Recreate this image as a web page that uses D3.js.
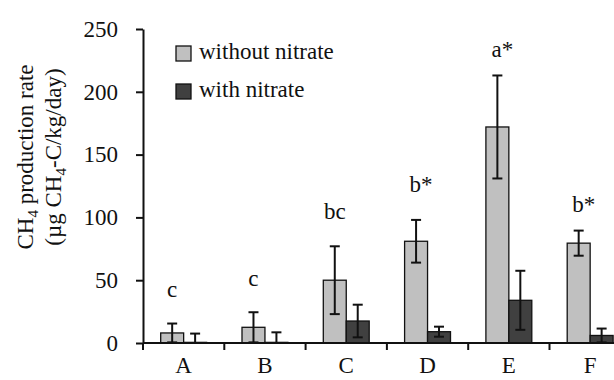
<!DOCTYPE html>
<html>
<head>
<meta charset="utf-8">
<script src="https://cdn.jsdelivr.net/npm/d3@7"></script>
<style>
body { margin: 0; background: #fff; }
text { font-family: "Liberation Serif", serif; }
</style>
</head>
<body>
<div id="chart"></div>
<script>
var w = 614;
var h = 380;

var categories = ["A", "B", "C", "D", "E", "F"];
var withoutNitrate = [8, 12.5, 50, 81, 172, 79.5];
var withNitrate = [0.5, 0.5, 17.5, 9, 34, 6];
var errWithout = [7.5, 12, 27, 17, 41, 10];
var errWith = [7, 8, 13, 4, 23.5, 5.5];
var letters = ["c", "c", "bc", "b*", "a*", "b*"];
var letterAt = [37, 45, 99, 120, 228, 104];
var yTicks = [0, 50, 100, 150, 200, 250];
var seriesNames = ["without nitrate", "with nitrate"];
var colors = ["#c0c0c0", "#404040"];

var svg = d3.select("#chart")
	.append("svg")
	.attr("width", w)
	.attr("height", h);

// scales
var yScale = d3.scaleLinear()
	.domain([0, 250])
	.range([343, 29]);

var xScale = d3.scaleBand()
	.domain(categories)
	.range([143, 143 + 6 * 81.3])
	.padding(0);

var subScale = d3.scaleBand()
	.domain([0, 1])
	.range([17.7, xScale.bandwidth() - 17.7])
	.padding(0);

var rows = categories.map(function (c, i) {
	return {
		cat: c,
		vals: [
			{ s: 0, v: withoutNitrate[i], e: errWithout[i] },
			{ s: 1, v: withNitrate[i], e: errWith[i] }
		]
	};
});

// bars
var groups = svg.selectAll("g.cat")
	.data(rows)
	.enter()
	.append("g")
	.attr("class", "cat")
	.attr("transform", function (d) {
		return "translate(" + xScale(d.cat) + ",0)";
	});

groups.selectAll("rect")
	.data(function (d) { return d.vals; })
	.enter()
	.append("rect")
	.attr("x", function (d) { return subScale(d.s); })
	.attr("y", function (d) { return yScale(d.v); })
	.attr("width", subScale.bandwidth())
	.attr("height", function (d) { return yScale(0) - yScale(d.v); })
	.attr("fill", function (d) { return colors[d.s]; })
	.attr("stroke", "#111")
	.attr("stroke-width", 1.3);

// error bars
var eb = groups.selectAll("g.err")
	.data(function (d) { return d.vals; })
	.enter()
	.append("g")
	.attr("class", "err")
	.attr("stroke", "#111")
	.attr("stroke-width", 2);

function cx(d) { return subScale(d.s) + subScale.bandwidth() / 2; }

eb.append("line")
	.attr("x1", cx).attr("x2", cx)
	.attr("y1", function (d) { return yScale(d.v + d.e); })
	.attr("y2", function (d) { return yScale(Math.max(0, d.v - d.e)); });
eb.append("line")
	.attr("x1", function (d) { return cx(d) - 5; })
	.attr("x2", function (d) { return cx(d) + 5; })
	.attr("y1", function (d) { return yScale(d.v + d.e); })
	.attr("y2", function (d) { return yScale(d.v + d.e); });
eb.append("line")
	.attr("x1", function (d) { return cx(d) - 5; })
	.attr("x2", function (d) { return cx(d) + 5; })
	.attr("y1", function (d) { return yScale(Math.max(0, d.v - d.e)); })
	.attr("y2", function (d) { return yScale(Math.max(0, d.v - d.e)); });

// significance letters
svg.selectAll("text.letter")
	.data(categories)
	.enter()
	.append("text")
	.attr("class", "letter")
	.attr("x", function (d, i) {
		var off = letters[i].indexOf("*") >= 0 ? 5 : 0;
		return xScale(d) + subScale(0) + subScale.bandwidth() / 2 + off;
	})
	.attr("y", function (d, i) { return yScale(letterAt[i]); })
	.attr("text-anchor", "middle")
	.attr("font-size", "23px")
	.attr("fill", "#111")
	.text(function (d, i) { return letters[i]; });

// y axis
var yAxis = svg.append("g")
	.attr("transform", "translate(143,0)")
	.call(d3.axisLeft(yScale).tickValues(yTicks).tickSize(7).tickSizeOuter(0).tickPadding(18));
yAxis.select(".domain").attr("stroke-width", 2).attr("stroke", "#111");
yAxis.selectAll(".tick line").attr("stroke-width", 2).attr("stroke", "#111");
yAxis.selectAll("text")
	.attr("font-family", "Liberation Serif, serif")
	.attr("font-size", "23px")
	.attr("fill", "#111");

// x axis: line + boundary ticks + centered labels
var xAxis = svg.append("g")
	.attr("transform", "translate(0," + yScale(0) + ")");
xAxis.append("line")
	.attr("x1", xScale.range()[0]).attr("x2", xScale.range()[1])
	.attr("stroke", "#111").attr("stroke-width", 2);
xAxis.selectAll("line.bt")
	.data(categories.concat(["end"]))
	.enter()
	.append("line")
	.attr("class", "bt")
	.attr("x1", function (d) { return d === "end" ? xScale.range()[1] : xScale(d); })
	.attr("x2", function (d) { return d === "end" ? xScale.range()[1] : xScale(d); })
	.attr("y1", 0).attr("y2", 7)
	.attr("stroke", "#111").attr("stroke-width", 2);

var xLab = svg.append("g")
	.attr("transform", "translate(0," + yScale(0) + ")")
	.call(d3.axisBottom(xScale).tickSize(0).tickPadding(14));
xLab.select(".domain").remove();
xLab.selectAll("text")
	.attr("font-family", "Liberation Serif, serif")
	.attr("font-size", "23px")
	.attr("fill", "#111");

// y axis title
var title = svg.append("text")
	.attr("transform", "translate(0,157) rotate(-90)")
	.attr("text-anchor", "middle")
	.attr("font-size", "23px")
	.attr("fill", "#111");
var t1 = title.append("tspan").attr("x", 0).attr("y", 33);
t1.append("tspan").text("CH");
t1.append("tspan").attr("font-size", "15px").attr("dy", 5).text("4");
t1.append("tspan").attr("dy", -5).text(" production rate");
var t2 = title.append("tspan").attr("x", 0).attr("y", 61);
t2.append("tspan").text("(\u00b5g CH");
t2.append("tspan").attr("font-size", "15px").attr("dy", 5).text("4");
t2.append("tspan").attr("dy", -5).text("-C/kg/day)");

// legend
var legend = svg.selectAll("g.legend")
	.data(seriesNames)
	.enter()
	.append("g")
	.attr("class", "legend")
	.attr("transform", function (d, i) {
		return "translate(176," + (46 + i * 38) + ")";
	});
legend.append("rect")
	.attr("width", 15)
	.attr("height", 15)
	.attr("fill", function (d, i) { return colors[i]; })
	.attr("stroke", "#111")
	.attr("stroke-width", 1.3);
legend.append("text")
	.attr("x", 23)
	.attr("y", 13)
	.attr("font-size", "23px")
	.attr("fill", "#111")
	.text(function (d) { return d; });
</script>
</body>
</html>
